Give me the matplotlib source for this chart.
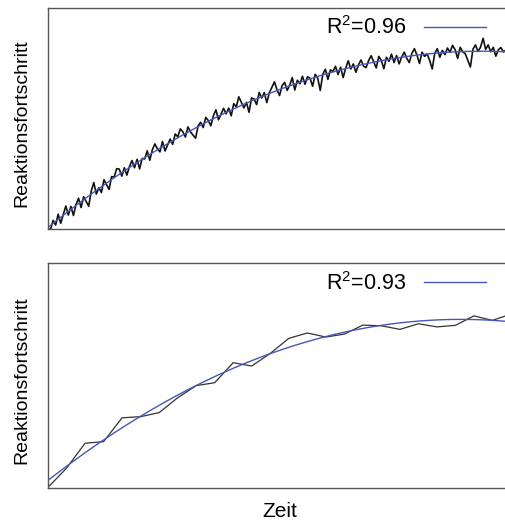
import numpy as np
import matplotlib
matplotlib.use("Agg")
import matplotlib.pyplot as plt

plt.rcParams['font.family'] = ['Liberation Sans', 'DejaVu Sans']
plt.rcParams['mathtext.fontset'] = 'custom'
plt.rcParams['mathtext.rm'] = 'Liberation Sans'
plt.rcParams['mathtext.it'] = 'Liberation Sans'

# top panel: dense, noisy measurement (normalised progress, 0..1)
dense_values = [
    0.000, -0.001, 0.039, 0.018, 0.067, 0.026, 0.065, 0.104, 0.063, 0.102,
    0.061, 0.110, 0.139, 0.097, 0.146, 0.125, 0.103, 0.172, 0.210, 0.158,
    0.187, 0.165, 0.223, 0.201, 0.179, 0.237, 0.235, 0.273, 0.271, 0.239,
    0.277, 0.244, 0.282, 0.310, 0.277, 0.315, 0.272, 0.319, 0.317, 0.354,
    0.311, 0.358, 0.385, 0.362, 0.349, 0.396, 0.353, 0.380, 0.407, 0.383,
    0.430, 0.417, 0.453, 0.440, 0.416, 0.462, 0.439, 0.425, 0.411, 0.467,
    0.483, 0.459, 0.505, 0.491, 0.467, 0.513, 0.539, 0.494, 0.520, 0.546,
    0.521, 0.547, 0.512, 0.567, 0.553, 0.598, 0.573, 0.548, 0.573, 0.528,
    0.593, 0.588, 0.563, 0.618, 0.593, 0.617, 0.572, 0.617, 0.641, 0.666,
    0.630, 0.604, 0.649, 0.663, 0.627, 0.651, 0.685, 0.629, 0.673, 0.657,
    0.691, 0.655, 0.689, 0.682, 0.646, 0.700, 0.683, 0.627, 0.700, 0.723,
    0.677, 0.720, 0.713, 0.736, 0.699, 0.732, 0.685, 0.728, 0.761, 0.724,
    0.747, 0.709, 0.742, 0.765, 0.737, 0.730, 0.762, 0.784, 0.757, 0.729,
    0.781, 0.763, 0.725, 0.777, 0.759, 0.791, 0.753, 0.785, 0.747, 0.778,
    0.800, 0.772, 0.753, 0.795, 0.816, 0.787, 0.749, 0.800, 0.781, 0.792,
    0.763, 0.724, 0.795, 0.816, 0.777, 0.808, 0.789, 0.819, 0.800, 0.831,
    0.811, 0.772, 0.822, 0.802, 0.793, 0.763, 0.733, 0.813, 0.833, 0.803,
    0.823, 0.863, 0.813, 0.833, 0.802, 0.822, 0.782, 0.811, 0.821, 0.801,
    0.810,
]
dense_r2 = "R$^2$=0.96"

# bottom panel: sparse measurement
sparse_values = [
    0.003, 0.088, 0.199, 0.206, 0.312, 0.317, 0.335, 0.401, 0.455, 0.468,
    0.557, 0.542, 0.598, 0.665, 0.689, 0.671, 0.684, 0.724, 0.721, 0.705,
    0.730, 0.716, 0.723, 0.765, 0.745, 0.773,
]
sparse_r2 = "R$^2$=0.93"

y_label = "Reaktionsfortschritt"
x_label = "Zeit"

fit_color = "#4656b8"
spine_color = "#555555"


def draw_panel(ax, x, y, r2_text, xmax, data_lw, data_color):
    # quadratic fit through the measured points
    coeffs = np.polyfit(x, y, 2)
    x_fit = np.linspace(0, xmax, 300)
    ax.plot(x, y, color=data_color, lw=data_lw)
    ax.plot(x_fit, np.polyval(coeffs, x_fit), color=fit_color, lw=1.0, label=r2_text)
    ax.set_xlim(0, xmax)
    ax.set_ylim(0, 1)
    ax.set_xticks([])
    ax.set_yticks([])
    for spine in ax.spines.values():
        spine.set_color(spine_color)
        spine.set_linewidth(1.0)
    ax.legend(loc='center right', bbox_to_anchor=(0.944, 0.91), frameon=False,
              markerfirst=False, handlelength=2.9, handletextpad=0.8,
              borderpad=0, borderaxespad=0, fontsize=15.5)
    ax.set_ylabel(y_label, fontsize=14)
    ax.yaxis.label.set_verticalalignment('center')
    ax.yaxis.set_label_coords(-0.056, 0.48)


fig = plt.figure(figsize=(5.06, 5.22), dpi=100)
W, H = 506.0, 522.0
ax_top = fig.add_axes([48 / W, 1 - 229 / H, 464 / W, 221 / H])
ax_bot = fig.add_axes([48 / W, 1 - 488 / H, 464 / W, 225 / H])

t_dense = np.arange(len(dense_values)) / (len(dense_values) - 1)
draw_panel(ax_top, t_dense, np.array(dense_values), dense_r2, 464 / 458, 1.2, "#111111")

x_sparse = np.arange(len(sparse_values))
draw_panel(ax_bot, x_sparse, np.array(sparse_values), sparse_r2, 464 / 18.52, 0.9, "#333333")

ax_bot.set_xlabel(x_label, fontsize=15)
ax_bot.xaxis.label.set_verticalalignment('baseline')
ax_bot.xaxis.set_label_coords(0.5, -29 / 225)

fig.savefig("out.png", dpi=100)
